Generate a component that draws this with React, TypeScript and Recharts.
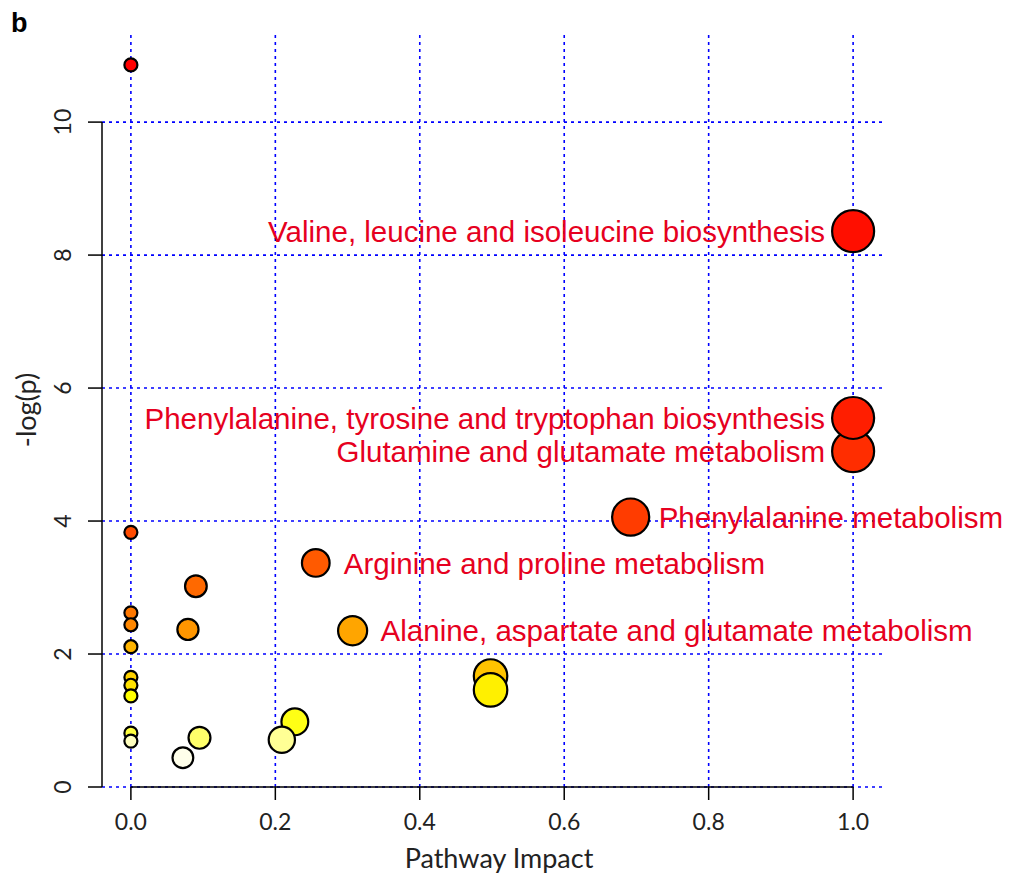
import React from 'react';
import { ScatterChart, Scatter, XAxis, YAxis, ReferenceLine, Label } from 'recharts';

// Pathway impact (x) and -log(p) (y), in drawing order
const impact = [0, 1.0, 1.0, 1.0, 0.692, 0, 0.256, 0.09, 0, 0, 0.307, 0.079, 0, 0.498, 0, 0, 0.498, 0, 0.227, 0, 0.095, 0.209, 0, 0.072];
const logP = [10.86, 8.36, 5.05, 5.55, 4.06, 3.83, 3.37, 3.02, 2.62, 2.44, 2.35, 2.37, 2.11, 1.67, 1.65, 1.53, 1.46, 1.37, 0.98, 0.81, 0.74, 0.71, 0.69, 0.44];
const pathwayLabels = [
  '',
  'Valine, leucine and isoleucine biosynthesis',
  'Glutamine and glutamate metabolism',
  'Phenylalanine, tyrosine and tryptophan biosynthesis',
  'Phenylalanine metabolism',
  '',
  'Arginine and proline metabolism',
  '', '', '',
  'Alanine, aspartate and glutamate metabolism',
  '', '', '', '', '', '', '', '', '', '', '', '', '',
];
const labelSide = ['', 'left', 'left', 'left', 'right', '', 'right', '', '', '', 'right', '', '', '', '', '', '', '', '', '', '', '', '', ''];

const xTicks = [0, 0.2, 0.4, 0.6, 0.8, 1.0];
const xTickLabels = ['0.0', '0.2', '0.4', '0.6', '0.8', '1.0'];
const yTicks = [0, 2, 4, 6, 8, 10];
const yTickLabels = ['0', '2', '4', '6', '8', '10'];

// R's heat.colors(n)
function heatColors(n: number): string[] {
  const j = Math.floor(n / 4);
  const i = n - j;
  const out: string[] = [];
  for (let k = 0; k < i; k++) {
    const h = i > 1 ? k / (i - 1) / 6 : 0;
    const g = Math.round(h * 6 * 255);
    out.push(`rgb(255,${g},0)`);
  }
  const s0 = 1 - 1 / (2 * j);
  const s1 = 1 / (2 * j);
  for (let k = 0; k < j; k++) {
    const s = j > 1 ? s0 + (k * (s1 - s0)) / (j - 1) : s0;
    const b = Math.round((1 - s) * 255);
    out.push(`rgb(255,255,${b})`);
  }
  return out;
}

const palette = heatColors(logP.length);
const order = logP.map((v, i) => i).sort((a, b) => logP[b] - logP[a]);
const rankOf: number[] = [];
order.forEach((idx, r) => { rankOf[idx] = r; });

const data = impact.map((x, i) => ({
  x,
  y: logP[i],
  color: palette[rankOf[i]],
  label: pathwayLabels[i],
  side: labelSide[i],
}));

const AXIS_FONT = 'Lato, "Open Sans", sans-serif';
const LABEL_FONT = '"Liberation Sans", Arial, Helvetica, sans-serif';
const GRID = '#0000ff';

const Bubble = (props: any) => {
  const { cx, cy, payload } = props;
  const r = 7.5 + 14.5 * Math.sqrt(payload.x);
  const off = 28;
  return (
    <g>
      <circle cx={cx} cy={cy} r={r - 1} fill={payload.color} stroke="#000" strokeWidth={2.2} />
      {payload.label ? (
        <text
          x={payload.side === 'left' ? cx - off : cx + off}
          y={cy}
          dy="0.36em"
          textAnchor={payload.side === 'left' ? 'end' : 'start'}
          fill="#e60020"
          fontSize={29.5}
          fontFamily={LABEL_FONT}
        >
          {payload.label}
        </text>
      ) : null}
    </g>
  );
};

const XTick = (props: any) => {
  const { x, payload } = props;
  const idx = xTicks.indexOf(payload.value);
  return (
    <text x={x} y={814} textAnchor="middle" dy="0.36em" fontSize={23} fontFamily={AXIS_FONT} fill="#222">
      {idx >= 0 ? xTickLabels[idx] : payload.value}
    </text>
  );
};

const YTick = (props: any) => {
  const { y, payload } = props;
  const idx = yTicks.indexOf(payload.value);
  return (
    <text
      x={55}
      y={y}
      transform={`rotate(-90, 55, ${y})`}
      textAnchor="middle"
      dy="0.36em"
      fontSize={23}
      fontFamily={AXIS_FONT}
      fill="#222"
    >
      {idx >= 0 ? yTickLabels[idx] : payload.value}
    </text>
  );
};

export default function App() {
  return (
    <div style={{ position: 'relative', width: 1008, height: 868 }}>
      <ScatterChart width={1008} height={868} margin={{ top: 25, right: 134, bottom: 0, left: 0 }}>
        <XAxis
          type="number"
          dataKey="x"
          domain={[-0.04, 1.04]}
          ticks={xTicks}
          interval={0}
          height={89}
          axisLine={false}
          tickLine={{ stroke: '#000', strokeWidth: 1.5 }}
          tickSize={13}
          tick={<XTick />}
          label={
            <Label
              content={() => (
                <text x={491} y={850} textAnchor="middle" dy="0.36em" fontSize={27} fontFamily={AXIS_FONT} fill="#222">
                  Pathway Impact
                </text>
              )}
            />
          }
        />
        <YAxis
          type="number"
          dataKey="y"
          domain={[0, 11.34]}
          ticks={yTicks}
          interval={0}
          width={94}
          axisLine={false}
          tickLine={{ stroke: '#000', strokeWidth: 1.5 }}
          tickSize={14}
          tick={<YTick />}
          label={
            <Label
              content={() => (
                <text
                  x={18}
                  y={402}
                  transform="rotate(-90, 18, 402)"
                  textAnchor="middle"
                  dy="0.36em"
                  fontSize={27}
                  fontFamily={AXIS_FONT}
                  fill="#222"
                >
                  -log(p)
                </text>
              )}
            />
          }
        />
        {xTicks.map((v) => (
          <ReferenceLine key={'gx' + v} x={v} stroke={GRID} strokeDasharray="3 4" strokeWidth={1.6} />
        ))}
        {yTicks.map((v) => (
          <ReferenceLine key={'gy' + v} y={v} stroke={GRID} strokeDasharray="3 4" strokeWidth={1.6} />
        ))}
        <ReferenceLine
          segment={[{ x: -0.04, y: 0 }, { x: -0.04, y: 10 }]}
          stroke="#000"
          strokeWidth={1.5}
          ifOverflow="visible"
        />
        <ReferenceLine
          segment={[{ x: 0, y: 0 }, { x: 1, y: 0 }]}
          stroke="#000"
          strokeWidth={1.5}
          ifOverflow="visible"
        />
        <Scatter data={data} shape={<Bubble />} isAnimationActive={false} />
      </ScatterChart>
      <svg style={{ position: 'absolute', left: 0, top: 0 }} width={60} height={50}>
        <text x={3} y={24} fontSize={27} fontWeight="bold" fontFamily={LABEL_FONT} fill="#000">
          b
        </text>
      </svg>
    </div>
  );
}
